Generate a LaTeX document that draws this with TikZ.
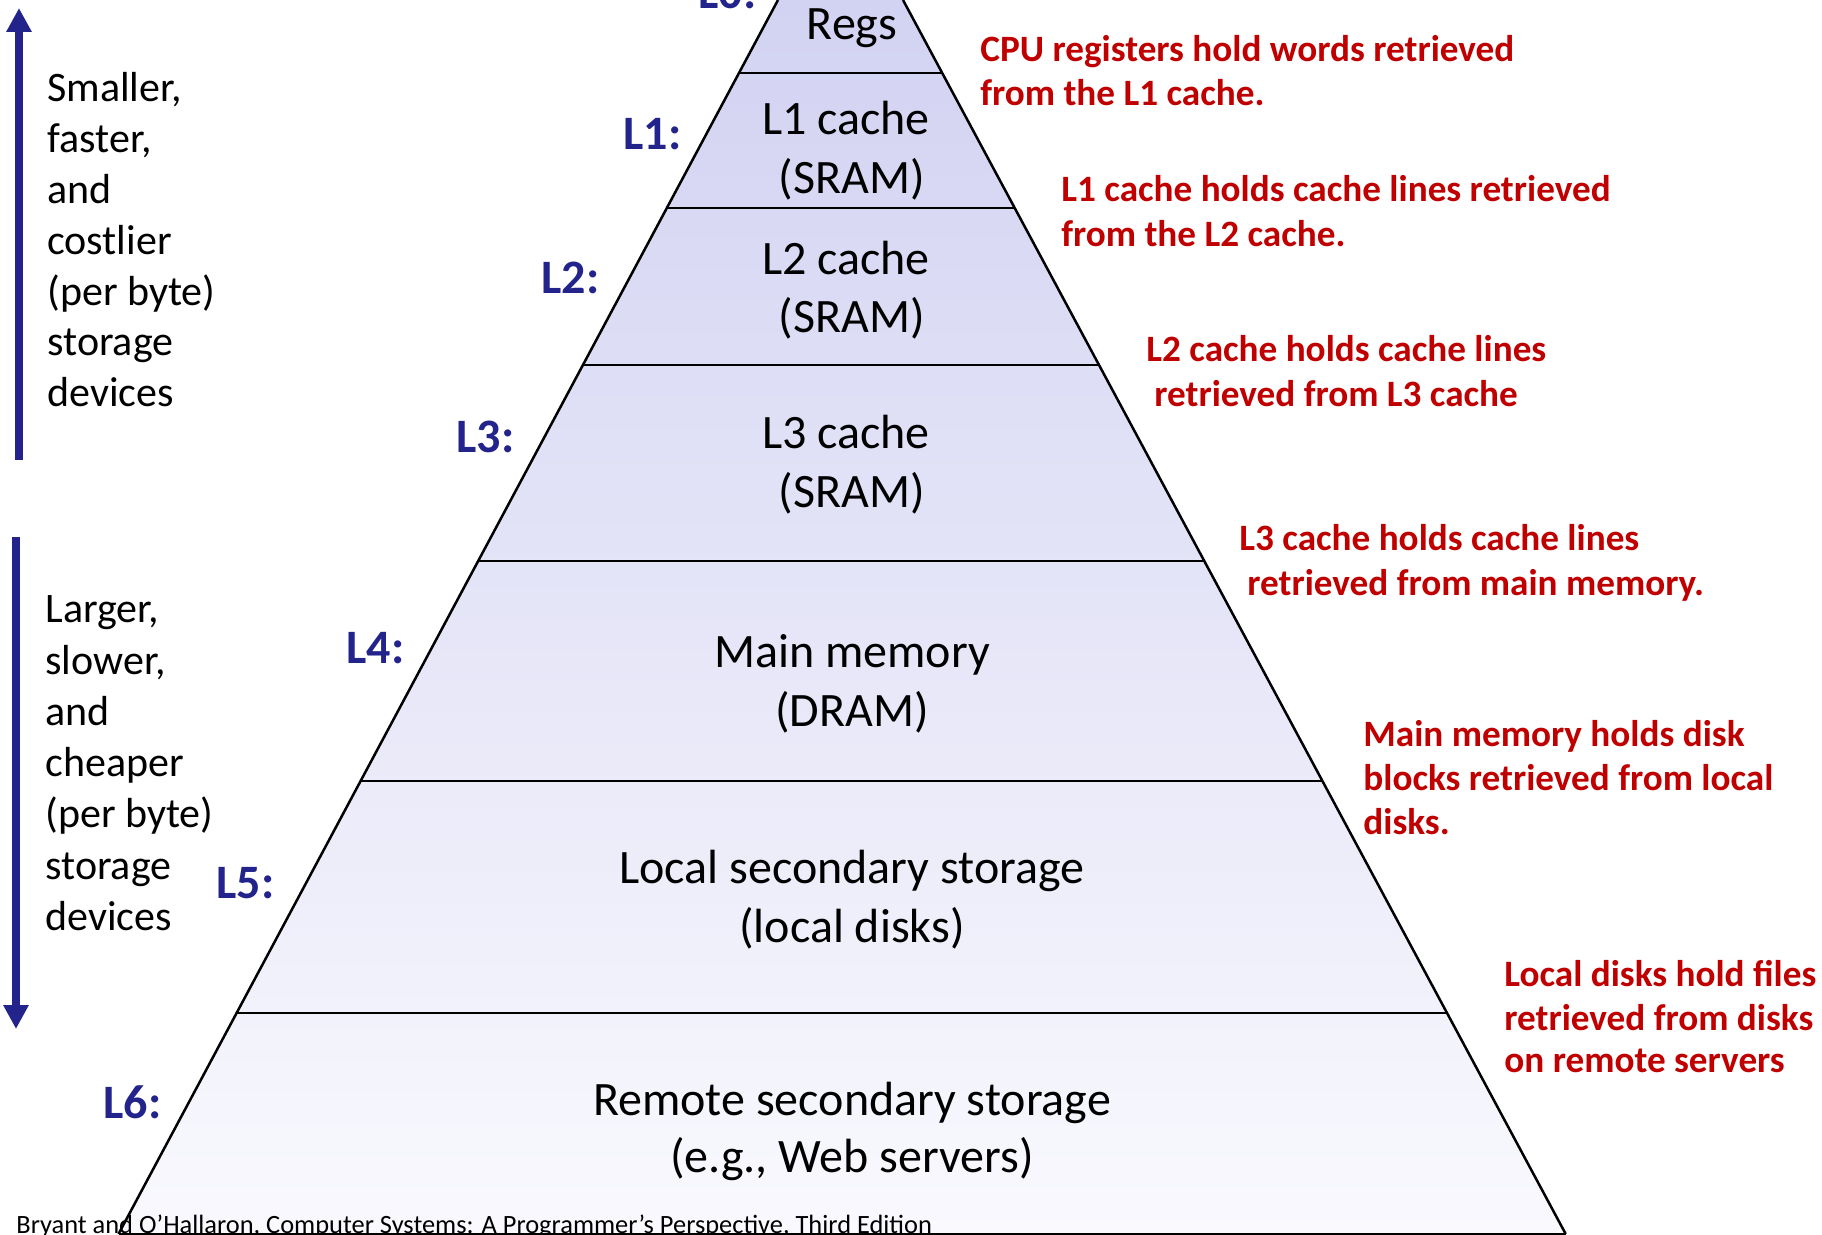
\documentclass[tikz,border=0pt]{standalone}
\usepackage{fontspec}
\setmainfont{Carlito}
\usetikzlibrary{arrows.meta}
\definecolor{navy}{RGB}{35,35,140}
\definecolor{redtxt}{RGB}{192,0,0}
\definecolor{topfill}{RGB}{210,210,242}
\definecolor{botfill}{RGB}{249,249,254}
\begin{document}
\begin{tikzpicture}[x=0.5pt,y=-0.5pt,
  level/.style={font=\fontsize{24}{28}\selectfont, anchor=base, inner sep=0pt},
  lab/.style={font=\fontsize{24}{28}\selectfont\bfseries, text=navy, anchor=base west, inner sep=0pt},
  note/.style={font=\fontsize{18.6}{22}\selectfont\bfseries, text=redtxt, anchor=base west, inner sep=0pt},
  side/.style={font=\fontsize{21}{25}\selectfont, anchor=base west, inner sep=0pt},
  foot/.style={font=\fontsize{13.2}{15}\selectfont, anchor=base west, inner sep=0pt},
  band/.style={line width=1.25pt, black},
  bigarrow/.style={navy, line width=4pt, -{Triangle[width=12pt,length=12pt]}}]
\useasboundingbox (0,0) rectangle (1822,1235);
% pyramid fill
\shade[top color=topfill, bottom color=botfill] (778,0) -- (903,0) -- (1566,1235) -- (118,1235) -- cycle;
% sides
\coordinate (tl) at (778,0);
\coordinate (tr) at (903,0);
\coordinate (bl) at (118.5,1234);
\coordinate (br) at (1565.7,1234);
\draw[band] (tl) -- (bl);
\draw[band] (tr) -- (br);
\foreach \y/\xl/\xr in {73/739/942.2, 208/666.8/1014.7, 365/583/1099, 561/478.2/1204.3, 781/360.6/1322.4, 1013/236.7/1447, 1234/118.5/1565.7}
  \draw[band] (\xl,\y) -- (\xr,\y);
% level texts
\node[level] (regs) at (852,40) {Regs};
\node[level] (l1a) at (846,135) {L1 cache};
\node[level] (l1b) at (852,194) {(SRAM)};
\node[level] (l2a) at (846,275) {L2 cache};
\node[level] (l2b) at (852,333) {(SRAM)};
\node[level] (l3a) at (846,449) {L3 cache};
\node[level] (l3b) at (852,508) {(SRAM)};
\node[level] (l4a) at (852,668) {Main memory};
\node[level] (l4b) at (852,726) {(DRAM)};
\node[level] (l5a) at (852,883) {Local secondary storage};
\node[level] (l5b) at (852,942) {(local disks)};
\node[level] (l6a) at (852,1115) {Remote secondary storage};
\node[level] (l6b) at (852,1172) {(e.g., Web servers)};
% level labels
\node[lab] (L0) at (698,9) {L0:};
\node[lab] (L1) at (623,150) {L1:};
\node[lab] (L2) at (541,294) {L2:};
\node[lab] (L3) at (456,453) {L3:};
\node[lab] (L4) at (346,663) {L4:};
\node[lab] (L5) at (216,898) {L5:};
\node[lab] (L6) at (103,1118) {L6:};
% notes
\node[note] (n1a) at (980,61.5) {CPU registers hold words retrieved};
\node[note] (n1b) at (980,105.5) {from the L1 cache.};
\node[note] (n2a) at (1061,201.5) {L1 cache holds cache lines retrieved};
\node[note] (n2b) at (1061,246.5) {from the L2 cache.};
\node[note] (n3a) at (1146,361.5) {L2 cache holds cache lines};
\node[note] (n3b) at (1154,406.5) {retrieved from L3 cache};
\node[note] (n4a) at (1239,550.5) {L3 cache holds cache lines};
\node[note] (n4b) at (1247,595.5) {retrieved from main memory.};
\node[note] (n5a) at (1363,746.5) {Main memory holds disk};
\node[note] (n5b) at (1363,790.5) {blocks retrieved from local};
\node[note] (n5c) at (1363,834.5) {disks.};
\node[note] (n6a) at (1504,986) {Local disks hold files};
\node[note] (n6b) at (1504,1030) {retrieved from disks};
\node[note] (n6c) at (1504,1072) {on remote servers};
% side texts
\foreach \t [count=\i from 0] in {{Smaller,},{faster,},and,costlier,(per byte),storage,devices}
  \node[side] (up\i) at (47,102+\i*50.8) {\t};
\foreach \t [count=\i from 0] in {{Larger,},{slower,},and,cheaper,(per byte),storage,devices}
  \node[side] (dn\i) at (45,623+\i*51.2) {\t};
% arrows
\coordinate (upS) at (19,460);
\coordinate (upE) at (19,8);
\coordinate (dnS) at (16,537);
\coordinate (dnE) at (16,1029);
\draw[bigarrow] (upS) -- (upE);
\draw[bigarrow] (dnS) -- (dnE);
% footer
\node[foot] (footer) at (16,1233) {Bryant and O’Hallaron, Computer Systems: A Programmer’s Perspective, Third Edition};
\end{tikzpicture}
\end{document}
